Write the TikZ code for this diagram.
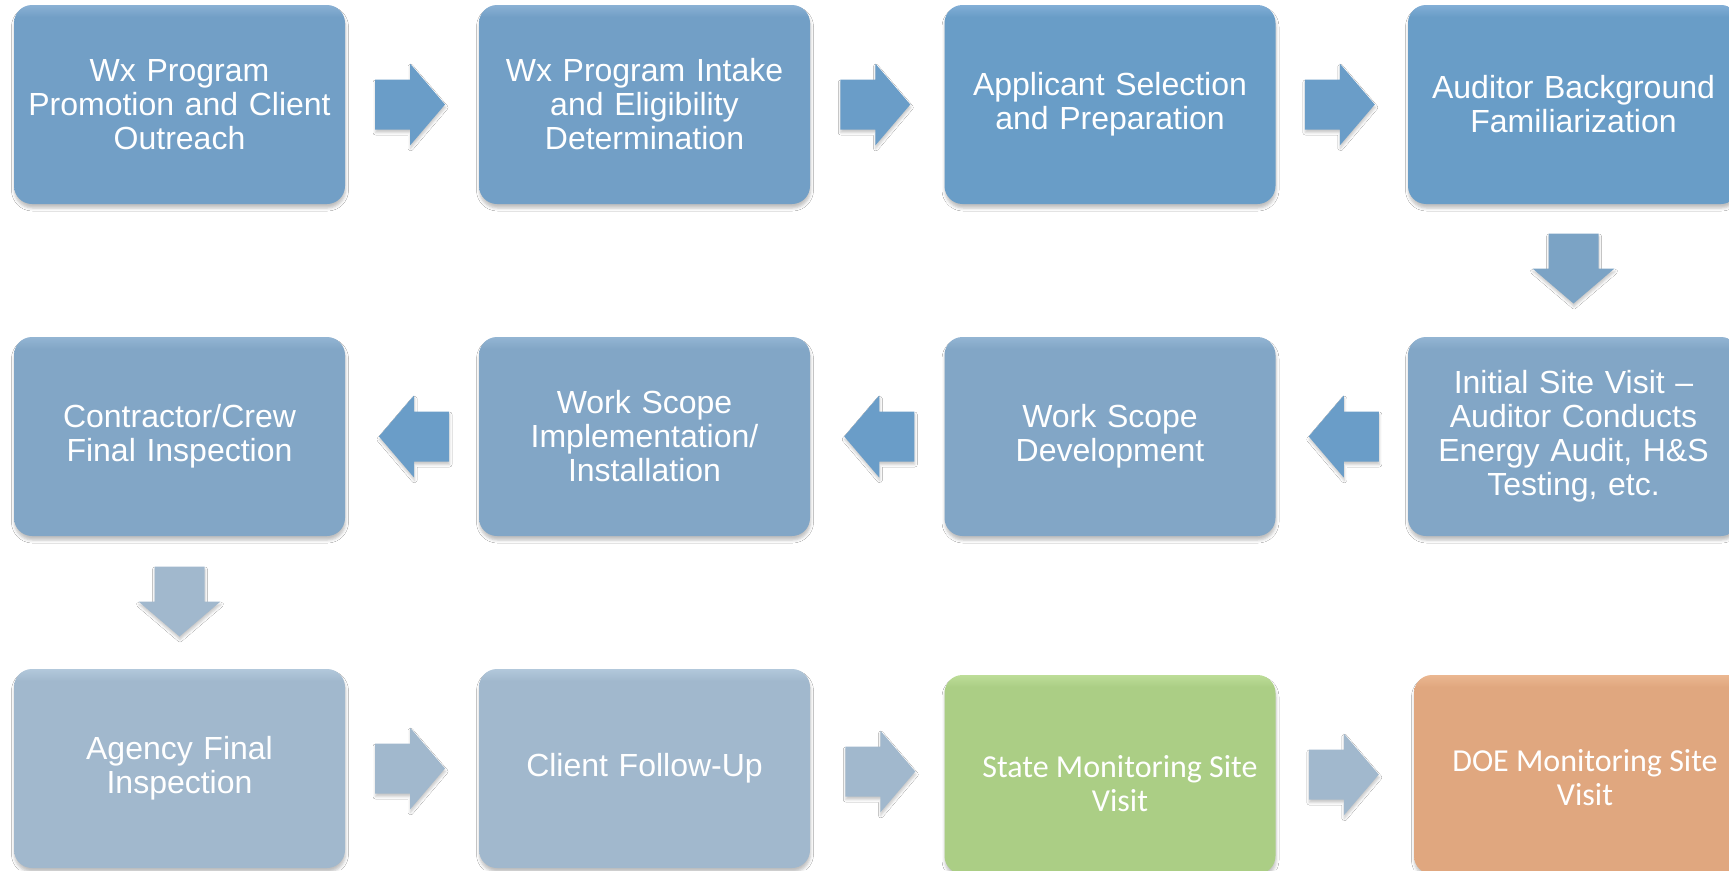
\documentclass[tikz,border=0pt]{standalone}
\usepackage{fontspec}
\setmainfont{Liberation Sans}
\newfontfamily\calib{Carlito}
\usetikzlibrary{calc,shadows.blur}
\definecolor{rowAa}{HTML}{729FC6}
\definecolor{rowAaL}{HTML}{8AB1D4}
\definecolor{rowAb}{HTML}{699DC7}
\definecolor{rowAbL}{HTML}{82AED6}
\definecolor{rowB}{HTML}{82A6C6}
\definecolor{rowBL}{HTML}{93B5D3}
\definecolor{rowC}{HTML}{A1B8CD}
\definecolor{rowCL}{HTML}{B2C8DB}
\definecolor{grn}{HTML}{ABCE85}
\definecolor{grnL}{HTML}{BDDD98}
\definecolor{org}{HTML}{E0A77F}
\definecolor{orgL}{HTML}{EBB791}
\definecolor{arrA}{HTML}{6A9DC8}
\definecolor{arrB}{HTML}{7BA3C5}
\definecolor{arrC}{HTML}{A1B8CD}
\newcommand\mkshade[3]{\pgfdeclareverticalshading{#1}{100bp}{color(0bp)=(#2); color(72bp)=(#2); color(75bp)=(#3); color(100bp)=(#3)}}
\mkshade{shAa}{rowAa}{rowAaL}
\mkshade{shAb}{rowAb}{rowAbL}
\mkshade{shB}{rowB}{rowBL}
\mkshade{shC}{rowC}{rowCL}
\mkshade{shG}{grn}{grnL}
\mkshade{shO}{org}{orgL}
\begin{document}
\begin{tikzpicture}[x=1pt,y=1pt,
  boxbase/.style={rectangle, rounded corners=18pt, minimum width=331pt, minimum height=199pt,
    text width=325pt, align=center, text=white, inner sep=0pt,
    font=\fontsize{32}{34}\selectfont,
    blur shadow={shadow xshift=0.5pt, shadow yshift=-4pt, shadow blur radius=3pt, shadow opacity=25}},
  calibtext/.style={align=center, text=white, inner sep=0pt, font=\calib\fontsize{32}{34}\selectfont},
  pics/barrow/.style={code={
    \fill[#1, blur shadow={shadow xshift=0.5pt, shadow yshift=-3pt, shadow blur radius=2.5pt, shadow opacity=22}]
      (-35,-25) -- (0,-25) -- (0,-41) -- (35,0) -- (0,41) -- (0,25) -- (-35,25) -- cycle;}}
]
\path[use as bounding box, clip] (0,0) rectangle (1729,-870);
\fill[white] (0,0) rectangle (1729,-870);

% Row 1
\node[boxbase, shading=shAa] (a1) at (179.5,-104.5) {Wx Program\\Promotion and Client\\Outreach};
\node[boxbase, shading=shAa] (a2) at (644.5,-104.5) {Wx Program Intake\\and Eligibility\\Determination};
\node[boxbase, shading=shAb] (a3) at (1110,-104.5) {Applicant Selection\\and Preparation};
\node[boxbase, shading=shAb] (a4) at (1573.5,-104.5) {Auditor Background\\Familiarization};

% Row 2
\node[boxbase, shading=shB] (b4) at (1573.5,-436.5) {Initial Site Visit –\\Auditor Conducts\\Energy Audit, H\&S\\Testing, etc.};
\node[boxbase, shading=shB] (b3) at (1110,-436.5) {Work Scope\\Development};
\node[boxbase, shading=shB] (b2) at (644.5,-436.5) {Work Scope\\Implementation/\\Installation};
\node[boxbase, shading=shB] (b1) at (179.5,-436.5) {Contractor/Crew\\Final Inspection};

% Row 3
\node[boxbase, shading=shC] (c1) at (179.5,-768.5) {Agency Final\\Inspection};
\node[boxbase, shading=shC] (c2) at (644.5,-768.5) {Client Follow-Up};
\node[boxbase, shading=shG] (c3) at (1110,-774.5) {};
\node[calibtext] (c3t) at (1120,-784) {State Monitoring Site\\Visit};
\node[boxbase, shading=shO] (c4) at (1579.5,-774.5) {};
\node[calibtext] (c4t) at (1585,-777.5) {DOE Monitoring Site\\Visit};

% Block arrows
\pic at ($(a1.east)!0.5!(a2.west)+(-2,0)$) {barrow=arrA};
\pic at ($(a2.east)!0.5!(a3.west)+(-2,0)$) {barrow=arrA};
\pic at ($(a3.east)!0.5!(a4.west)+(-2,0)$) {barrow=arrA};
\pic[rotate=-90] at ($(a4.south)!0.5!(b4.north)+(0,2)$) {barrow=arrB};
\pic[rotate=180] at ($(b4.west)!0.5!(b3.east)+(2,0)$) {barrow=arrA};
\pic[rotate=180] at ($(b3.west)!0.5!(b2.east)+(2,0)$) {barrow=arrA};
\pic[rotate=180] at ($(b2.west)!0.5!(b1.east)+(2,0)$) {barrow=arrA};
\pic[rotate=-90] at ($(b1.south)!0.5!(c1.north)+(0,1)$) {barrow=arrC};
\pic at ($(c1.east)!0.5!(c2.west)+(-2,0)$) {barrow=arrC};
\pic at ($(c2.east)!0.5!(c3.west)+(3,0)$) {barrow=arrC};
\pic at ($(c3.east)!0.5!(c4.west)+(-1,0)$) {barrow=arrC};
\end{tikzpicture}
\end{document}
